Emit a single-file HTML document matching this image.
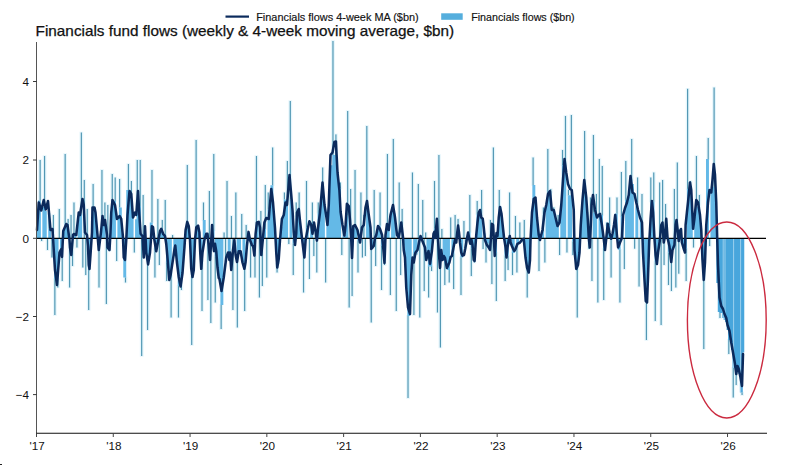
<!DOCTYPE html>
<html><head><meta charset="utf-8"><title>Financials fund flows</title>
<style>
html,body{margin:0;padding:0;background:#fff;}
body{width:800px;height:465px;overflow:hidden;}
svg{display:block;}
text{font-family:'Liberation Sans', Arial, sans-serif;fill:#111;}
</style></head><body>
<svg width="800" height="465" viewBox="0 0 800 465">
<rect width="800" height="465" fill="#fff"/>
<text x="35.6" y="35.7" font-size="14.3" textLength="418.6" lengthAdjust="spacingAndGlyphs" stroke="#111" stroke-width="0.25">Financials fund flows (weekly &amp; 4-week moving average, $bn)</text>
<line x1="225.5" x2="249" y1="16.6" y2="16.6" stroke="#0b2a5c" stroke-width="2.2"/>
<text x="256.2" y="20.8" font-size="10.5" textLength="162.5" lengthAdjust="spacingAndGlyphs" stroke="#111" stroke-width="0.15">Financials flows 4-week MA ($bn)</text>
<rect x="441.2" y="13.3" width="21.5" height="6.5" fill="#55aedd"/>
<text x="471.2" y="20.8" font-size="10.5" textLength="103.5" lengthAdjust="spacingAndGlyphs" stroke="#111" stroke-width="0.15">Financials flows ($bn)</text>
<g fill="#e6f6fc"><rect x="38.24" y="159.2" width="3.8" height="42.2"/><rect x="39.71" y="237.5" width="3.8" height="4.3"/><rect x="42.66" y="155.2" width="3.8" height="52.7"/><rect x="45.60" y="237.5" width="3.8" height="13.3"/><rect x="47.07" y="213.1" width="3.8" height="16.4"/><rect x="50.02" y="237.5" width="3.8" height="20.8"/><rect x="51.49" y="214.2" width="3.8" height="24.9"/><rect x="52.96" y="278.3" width="3.8" height="37.5"/><rect x="55.90" y="278.3" width="3.8" height="10.0"/><rect x="57.37" y="208.2" width="3.8" height="30.9"/><rect x="60.32" y="247.1" width="3.8" height="34.7"/><rect x="63.26" y="153.2" width="3.8" height="71.2"/><rect x="66.20" y="218.2" width="3.8" height="6.2"/><rect x="67.67" y="237.5" width="3.8" height="50.8"/><rect x="69.14" y="214.2" width="3.8" height="24.9"/><rect x="70.62" y="237.5" width="3.8" height="29.3"/><rect x="72.09" y="201.7" width="3.8" height="35.2"/><rect x="75.03" y="237.5" width="3.8" height="10.8"/><rect x="79.45" y="131.7" width="3.8" height="82.8"/><rect x="80.92" y="237.5" width="3.8" height="30.8"/><rect x="82.39" y="179.2" width="3.8" height="59.9"/><rect x="83.86" y="237.5" width="3.8" height="38.3"/><rect x="85.33" y="208.2" width="3.8" height="30.9"/><rect x="86.80" y="261.4" width="3.8" height="49.4"/><rect x="91.22" y="183.2" width="3.8" height="29.4"/><rect x="97.10" y="237.5" width="3.8" height="50.8"/><rect x="100.05" y="169.2" width="3.8" height="56.1"/><rect x="102.99" y="201.7" width="3.8" height="23.6"/><rect x="104.46" y="237.5" width="3.8" height="67.3"/><rect x="105.93" y="204.2" width="3.8" height="34.9"/><rect x="107.40" y="237.5" width="3.8" height="14.3"/><rect x="110.35" y="173.2" width="3.8" height="28.4"/><rect x="113.29" y="176.7" width="3.8" height="24.9"/><rect x="114.76" y="237.5" width="3.8" height="24.3"/><rect x="117.70" y="178.2" width="3.8" height="30.1"/><rect x="123.59" y="276.7" width="3.8" height="6.6"/><rect x="126.53" y="163.2" width="3.8" height="27.6"/><rect x="129.48" y="180.2" width="3.8" height="14.6"/><rect x="132.42" y="237.5" width="3.8" height="15.8"/><rect x="135.36" y="159.2" width="3.8" height="47.5"/><rect x="138.31" y="159.2" width="3.8" height="47.5"/><rect x="139.78" y="237.5" width="3.8" height="119.3"/><rect x="141.25" y="194.2" width="3.8" height="40.6"/><rect x="145.66" y="257.3" width="3.8" height="73.5"/><rect x="150.08" y="169.2" width="3.8" height="54.1"/><rect x="153.02" y="248.1" width="3.8" height="30.2"/><rect x="155.96" y="198.2" width="3.8" height="40.9"/><rect x="157.44" y="237.5" width="3.8" height="28.3"/><rect x="160.38" y="219.2" width="3.8" height="10.3"/><rect x="163.32" y="199.2" width="3.8" height="37.3"/><rect x="164.79" y="261.6" width="3.8" height="20.2"/><rect x="169.21" y="271.4" width="3.8" height="46.9"/><rect x="170.68" y="234.2" width="3.8" height="4.9"/><rect x="172.15" y="247.3" width="3.8" height="9.6"/><rect x="176.57" y="285.3" width="3.8" height="33.0"/><rect x="179.51" y="285.3" width="3.8" height="5.5"/><rect x="185.39" y="164.2" width="3.8" height="65.6"/><rect x="189.81" y="273.4" width="3.8" height="72.4"/><rect x="194.22" y="139.2" width="3.8" height="88.1"/><rect x="200.11" y="259.3" width="3.8" height="52.5"/><rect x="201.58" y="201.7" width="3.8" height="19.1"/><rect x="206.00" y="237.5" width="3.8" height="63.3"/><rect x="207.47" y="190.2" width="3.8" height="48.9"/><rect x="208.94" y="237.5" width="3.8" height="86.3"/><rect x="211.88" y="153.2" width="3.8" height="77.7"/><rect x="213.35" y="255.5" width="3.8" height="47.8"/><rect x="219.24" y="304.2" width="3.8" height="25.6"/><rect x="222.18" y="231.7" width="3.8" height="7.4"/><rect x="223.65" y="237.5" width="3.8" height="24.4"/><rect x="225.13" y="180.2" width="3.8" height="58.9"/><rect x="226.60" y="251.4" width="3.8" height="5.3"/><rect x="229.54" y="215.2" width="3.8" height="23.9"/><rect x="231.01" y="238.1" width="3.8" height="72.7"/><rect x="233.95" y="191.7" width="3.8" height="47.4"/><rect x="235.43" y="251.4" width="3.8" height="76.9"/><rect x="239.84" y="213.2" width="3.8" height="25.9"/><rect x="242.78" y="263.6" width="3.8" height="48.2"/><rect x="244.26" y="224.2" width="3.8" height="14.9"/><rect x="245.73" y="237.5" width="3.8" height="2.0"/><rect x="247.20" y="236.5" width="3.8" height="2.6"/><rect x="248.67" y="243.3" width="3.8" height="35.0"/><rect x="253.08" y="245.5" width="3.8" height="32.8"/><rect x="254.56" y="155.2" width="3.8" height="70.5"/><rect x="257.50" y="237.5" width="3.8" height="60.8"/><rect x="258.97" y="210.2" width="3.8" height="28.9"/><rect x="260.44" y="237.5" width="3.8" height="49.3"/><rect x="263.38" y="184.2" width="3.8" height="45.6"/><rect x="264.86" y="237.5" width="3.8" height="40.8"/><rect x="266.33" y="191.7" width="3.8" height="18.5"/><rect x="270.74" y="146.7" width="3.8" height="39.3"/><rect x="275.16" y="263.0" width="3.8" height="10.3"/><rect x="282.51" y="191.7" width="3.8" height="8.5"/><rect x="285.46" y="160.2" width="3.8" height="40.0"/><rect x="286.93" y="237.5" width="3.8" height="7.3"/><rect x="288.40" y="100.2" width="3.8" height="100.1"/><rect x="291.34" y="242.8" width="3.8" height="33.0"/><rect x="294.29" y="201.7" width="3.8" height="15.4"/><rect x="297.23" y="191.7" width="3.8" height="25.4"/><rect x="301.64" y="244.9" width="3.8" height="48.4"/><rect x="304.59" y="180.2" width="3.8" height="48.1"/><rect x="307.53" y="237.5" width="3.8" height="42.3"/><rect x="310.47" y="201.7" width="3.8" height="21.9"/><rect x="311.94" y="237.5" width="3.8" height="19.3"/><rect x="313.42" y="228.7" width="3.8" height="10.4"/><rect x="314.89" y="237.5" width="3.8" height="35.8"/><rect x="316.36" y="201.7" width="3.8" height="11.7"/><rect x="320.77" y="166.7" width="3.8" height="34.3"/><rect x="323.72" y="237.5" width="3.8" height="45.8"/><rect x="331.07" y="40.2" width="3.8" height="115.7"/><rect x="334.02" y="133.6" width="3.8" height="22.3"/><rect x="338.43" y="181.7" width="3.8" height="7.3"/><rect x="339.90" y="237.5" width="3.8" height="18.3"/><rect x="341.38" y="227.7" width="3.8" height="8.4"/><rect x="345.79" y="110.2" width="3.8" height="106.2"/><rect x="347.26" y="237.5" width="3.8" height="70.8"/><rect x="348.73" y="188.2" width="3.8" height="50.9"/><rect x="350.20" y="237.5" width="3.8" height="59.3"/><rect x="353.15" y="169.2" width="3.8" height="58.4"/><rect x="356.09" y="239.9" width="3.8" height="33.4"/><rect x="359.03" y="191.7" width="3.8" height="47.4"/><rect x="360.50" y="237.5" width="3.8" height="20.8"/><rect x="361.98" y="214.2" width="3.8" height="24.9"/><rect x="363.45" y="237.5" width="3.8" height="19.3"/><rect x="364.92" y="125.2" width="3.8" height="85.1"/><rect x="369.33" y="248.0" width="3.8" height="75.3"/><rect x="372.28" y="189.2" width="3.8" height="49.9"/><rect x="373.75" y="237.5" width="3.8" height="29.3"/><rect x="378.16" y="191.7" width="3.8" height="34.6"/><rect x="379.63" y="244.9" width="3.8" height="45.9"/><rect x="382.58" y="244.9" width="3.8" height="20.9"/><rect x="385.52" y="153.2" width="3.8" height="76.6"/><rect x="388.46" y="237.5" width="3.8" height="58.3"/><rect x="391.41" y="138.2" width="3.8" height="69.5"/><rect x="394.35" y="237.5" width="3.8" height="74.3"/><rect x="397.29" y="181.7" width="3.8" height="54.6"/><rect x="398.76" y="237.5" width="3.8" height="38.3"/><rect x="400.24" y="208.2" width="3.8" height="30.9"/><rect x="406.12" y="315.1" width="3.8" height="83.7"/><rect x="410.54" y="171.7" width="3.8" height="67.4"/><rect x="412.01" y="252.3" width="3.8" height="63.5"/><rect x="414.95" y="252.3" width="3.8" height="3.0"/><rect x="416.42" y="183.2" width="3.8" height="55.9"/><rect x="417.89" y="237.5" width="3.8" height="80.8"/><rect x="420.84" y="199.2" width="3.8" height="38.4"/><rect x="422.31" y="237.5" width="3.8" height="54.3"/><rect x="423.78" y="231.7" width="3.8" height="7.4"/><rect x="426.72" y="265.6" width="3.8" height="32.7"/><rect x="429.67" y="265.6" width="3.8" height="6.2"/><rect x="432.61" y="180.2" width="3.8" height="49.3"/><rect x="435.55" y="237.5" width="3.8" height="75.8"/><rect x="437.02" y="154.2" width="3.8" height="84.9"/><rect x="438.50" y="237.5" width="3.8" height="110.8"/><rect x="439.97" y="228.2" width="3.8" height="10.9"/><rect x="442.91" y="262.3" width="3.8" height="23.5"/><rect x="447.32" y="269.1" width="3.8" height="14.2"/><rect x="448.80" y="216.7" width="3.8" height="22.4"/><rect x="451.74" y="253.6" width="3.8" height="36.2"/><rect x="453.21" y="214.2" width="3.8" height="24.2"/><rect x="456.15" y="218.2" width="3.8" height="20.2"/><rect x="459.10" y="256.7" width="3.8" height="39.1"/><rect x="462.04" y="220.2" width="3.8" height="18.9"/><rect x="463.51" y="238.8" width="3.8" height="10.0"/><rect x="467.93" y="194.2" width="3.8" height="38.6"/><rect x="469.40" y="248.0" width="3.8" height="28.8"/><rect x="472.34" y="248.0" width="3.8" height="15.3"/><rect x="475.28" y="200.2" width="3.8" height="14.6"/><rect x="479.70" y="189.2" width="3.8" height="26.8"/><rect x="481.17" y="237.5" width="3.8" height="12.3"/><rect x="482.64" y="232.9" width="3.8" height="6.2"/><rect x="484.11" y="242.6" width="3.8" height="20.7"/><rect x="487.06" y="242.6" width="3.8" height="4.2"/><rect x="488.53" y="219.2" width="3.8" height="19.9"/><rect x="490.00" y="237.5" width="3.8" height="47.3"/><rect x="491.47" y="146.7" width="3.8" height="92.4"/><rect x="494.41" y="252.3" width="3.8" height="49.5"/><rect x="497.36" y="189.2" width="3.8" height="18.1"/><rect x="503.24" y="254.7" width="3.8" height="27.1"/><rect x="506.18" y="254.7" width="3.8" height="16.1"/><rect x="507.66" y="191.7" width="3.8" height="47.4"/><rect x="510.60" y="252.1" width="3.8" height="23.7"/><rect x="513.54" y="215.2" width="3.8" height="23.9"/><rect x="515.01" y="243.4" width="3.8" height="29.9"/><rect x="517.96" y="221.7" width="3.8" height="17.4"/><rect x="519.43" y="238.8" width="3.8" height="4.1"/><rect x="522.37" y="219.2" width="3.8" height="19.9"/><rect x="525.31" y="266.6" width="3.8" height="31.7"/><rect x="531.20" y="156.7" width="3.8" height="29.1"/><rect x="537.09" y="237.5" width="3.8" height="34.3"/><rect x="541.50" y="206.7" width="3.8" height="25.5"/><rect x="542.97" y="237.5" width="3.8" height="25.8"/><rect x="545.92" y="148.2" width="3.8" height="45.2"/><rect x="548.86" y="188.2" width="3.8" height="5.2"/><rect x="551.80" y="206.6" width="3.8" height="5.2"/><rect x="556.22" y="214.2" width="3.8" height="7.6"/><rect x="557.69" y="237.5" width="3.8" height="18.3"/><rect x="560.63" y="149.2" width="3.8" height="16.8"/><rect x="563.57" y="115.2" width="3.8" height="50.8"/><rect x="565.05" y="237.5" width="3.8" height="15.8"/><rect x="566.52" y="189.1" width="3.8" height="6.9"/><rect x="569.46" y="114.2" width="3.8" height="81.9"/><rect x="570.93" y="240.7" width="3.8" height="15.1"/><rect x="575.35" y="266.8" width="3.8" height="51.5"/><rect x="582.70" y="130.2" width="3.8" height="64.5"/><rect x="587.12" y="237.5" width="3.8" height="12.3"/><rect x="588.59" y="196.7" width="3.8" height="42.4"/><rect x="590.06" y="237.5" width="3.8" height="44.3"/><rect x="591.53" y="134.2" width="3.8" height="79.2"/><rect x="594.48" y="193.2" width="3.8" height="20.2"/><rect x="595.95" y="237.5" width="3.8" height="65.8"/><rect x="597.42" y="158.2" width="3.8" height="57.6"/><rect x="600.36" y="165.2" width="3.8" height="50.6"/><rect x="601.83" y="248.2" width="3.8" height="52.6"/><rect x="604.78" y="221.7" width="3.8" height="4.2"/><rect x="607.72" y="196.7" width="3.8" height="29.2"/><rect x="609.19" y="237.5" width="3.8" height="40.8"/><rect x="615.08" y="196.7" width="3.8" height="17.7"/><rect x="618.02" y="249.0" width="3.8" height="54.3"/><rect x="619.49" y="171.2" width="3.8" height="45.7"/><rect x="622.43" y="237.5" width="3.8" height="32.3"/><rect x="623.91" y="160.2" width="3.8" height="40.4"/><rect x="629.79" y="138.2" width="3.8" height="42.6"/><rect x="632.74" y="237.5" width="3.8" height="12.0"/><rect x="635.68" y="176.7" width="3.8" height="30.3"/><rect x="637.15" y="237.5" width="3.8" height="49.8"/><rect x="640.09" y="193.2" width="3.8" height="28.6"/><rect x="644.51" y="288.4" width="3.8" height="52.4"/><rect x="648.92" y="176.7" width="3.8" height="25.6"/><rect x="651.86" y="171.7" width="3.8" height="30.6"/><rect x="653.34" y="261.3" width="3.8" height="60.5"/><rect x="657.75" y="181.7" width="3.8" height="57.4"/><rect x="659.22" y="237.5" width="3.8" height="88.3"/><rect x="660.69" y="179.2" width="3.8" height="59.9"/><rect x="662.17" y="237.5" width="3.8" height="28.3"/><rect x="663.64" y="203.2" width="3.8" height="27.8"/><rect x="666.58" y="251.8" width="3.8" height="34.0"/><rect x="669.52" y="251.8" width="3.8" height="40.0"/><rect x="672.47" y="188.2" width="3.8" height="50.9"/><rect x="673.94" y="237.5" width="3.8" height="50.8"/><rect x="675.41" y="161.7" width="3.8" height="77.4"/><rect x="676.88" y="237.5" width="3.8" height="37.0"/><rect x="678.35" y="228.2" width="3.8" height="10.9"/><rect x="684.24" y="248.0" width="3.8" height="33.8"/><rect x="685.71" y="88.0" width="3.8" height="101.7"/><rect x="688.65" y="180.2" width="3.8" height="9.4"/><rect x="691.60" y="237.5" width="3.8" height="10.8"/><rect x="694.54" y="155.2" width="3.8" height="52.4"/><rect x="697.48" y="194.2" width="3.8" height="13.4"/><rect x="701.90" y="259.0" width="3.8" height="90.8"/><rect x="706.31" y="137.2" width="3.8" height="22.6"/><rect x="707.78" y="237.5" width="3.8" height="9.3"/><rect x="712.20" y="86.7" width="3.8" height="100.9"/><rect x="718.08" y="312.2" width="3.8" height="6.6"/><rect x="726.91" y="339.2" width="3.8" height="15.6"/><rect x="731.33" y="367.2" width="3.8" height="31.1"/><rect x="734.27" y="371.2" width="3.8" height="14.6"/><rect x="740.16" y="391.7" width="3.8" height="4.1"/></g>
<path fill="#64b9e7" d="M36.46,238.3V225.7H37.94V238.3ZM37.94,238.3V200.6H39.41V238.3ZM39.41,238.3V200.6H40.88V238.3ZM42.35,238.3V207.1H43.82V238.3ZM43.82,238.3V207.1H45.29V238.3ZM45.29,238.3V211.0H46.76V238.3ZM48.24,238.3V228.7H49.71V238.3ZM49.71,238.3V228.7H51.18V238.3ZM54.12,238.3V279.1H55.59V238.3ZM55.59,238.3V279.1H57.07V238.3ZM57.07,238.3V279.1H58.54V238.3ZM60.01,238.3V247.9H61.48V238.3ZM61.48,238.3V247.9H62.95V238.3ZM62.95,238.3V229.3H64.42V238.3ZM64.42,238.3V223.6H65.89V238.3ZM65.89,238.3V223.6H67.37V238.3ZM67.37,238.3V223.6H68.84V238.3ZM73.25,238.3V236.1H74.72V238.3ZM74.72,238.3V236.1H76.20V238.3ZM77.67,238.3V219.4H79.14V238.3ZM79.14,238.3V213.7H80.61V238.3ZM80.61,238.3V213.7H82.08V238.3ZM87.97,238.3V262.2H89.44V238.3ZM89.44,238.3V262.2H90.91V238.3ZM90.91,238.3V236.5H92.38V238.3ZM92.38,238.3V211.8H93.85V238.3ZM93.85,238.3V211.8H95.32V238.3ZM95.32,238.3V218.8H96.80V238.3ZM96.80,238.3V237.1H98.27V238.3ZM101.21,238.3V224.5H102.68V238.3ZM102.68,238.3V224.5H104.15V238.3ZM104.15,238.3V224.5H105.63V238.3ZM110.04,238.3V224.8H111.51V238.3ZM111.51,238.3V200.8H112.98V238.3ZM112.98,238.3V200.8H114.45V238.3ZM114.45,238.3V200.8H115.93V238.3ZM117.40,238.3V216.4H118.87V238.3ZM118.87,238.3V207.5H120.34V238.3ZM120.34,238.3V207.5H121.81V238.3ZM121.81,238.3V233.6H123.28V238.3ZM123.28,238.3V277.5H124.76V238.3ZM124.76,238.3V277.5H126.23V238.3ZM126.23,238.3V190.0H127.70V238.3ZM127.70,238.3V190.0H129.17V238.3ZM129.17,238.3V194.0H130.64V238.3ZM130.64,238.3V194.0H132.11V238.3ZM132.11,238.3V216.9H133.58V238.3ZM135.06,238.3V219.2H136.53V238.3ZM136.53,238.3V205.9H138.00V238.3ZM138.00,238.3V205.9H139.47V238.3ZM139.47,238.3V205.9H140.94V238.3ZM142.41,238.3V234.0H143.88V238.3ZM143.88,238.3V234.0H145.36V238.3ZM145.36,238.3V247.5H146.83V238.3ZM146.83,238.3V258.1H148.30V238.3ZM148.30,238.3V258.1H149.77V238.3ZM149.77,238.3V222.5H151.24V238.3ZM151.24,238.3V222.5H152.71V238.3ZM152.71,238.3V233.6H154.19V238.3ZM154.19,238.3V248.9H155.66V238.3ZM155.66,238.3V248.9H157.13V238.3ZM160.07,238.3V228.7H161.54V238.3ZM161.54,238.3V228.7H163.01V238.3ZM163.01,238.3V235.7H164.49V238.3ZM164.49,238.3V235.7H165.96V238.3ZM165.96,238.3V262.4H167.43V238.3ZM167.43,238.3V262.4H168.90V238.3ZM168.90,238.3V272.2H170.37V238.3ZM170.37,238.3V272.2H171.84V238.3ZM173.32,238.3V248.1H174.79V238.3ZM174.79,238.3V248.1H176.26V238.3ZM176.26,238.3V259.4H177.73V238.3ZM177.73,238.3V286.1H179.20V238.3ZM179.20,238.3V286.1H180.67V238.3ZM180.67,238.3V286.1H182.14V238.3ZM182.14,238.3V270.4H183.62V238.3ZM183.62,238.3V248.2H185.09V238.3ZM185.09,238.3V229.4H186.56V238.3ZM186.56,238.3V229.0H188.03V238.3ZM188.03,238.3V229.0H189.50V238.3ZM189.50,238.3V246.6H190.97V238.3ZM190.97,238.3V274.2H192.44V238.3ZM192.44,238.3V274.2H193.92V238.3ZM193.92,238.3V247.2H195.39V238.3ZM195.39,238.3V226.5H196.86V238.3ZM196.86,238.3V226.5H198.33V238.3ZM198.33,238.3V233.1H199.80V238.3ZM199.80,238.3V260.1H201.27V238.3ZM201.27,238.3V260.1H202.75V238.3ZM202.75,238.3V220.0H204.22V238.3ZM204.22,238.3V220.0H205.69V238.3ZM205.69,238.3V235.9H207.16V238.3ZM211.57,238.3V230.1H213.05V238.3ZM213.05,238.3V230.1H214.52V238.3ZM214.52,238.3V256.3H215.99V238.3ZM215.99,238.3V256.3H217.46V238.3ZM217.46,238.3V275.8H218.93V238.3ZM218.93,238.3V280.8H220.40V238.3ZM220.40,238.3V305.0H221.88V238.3ZM221.88,238.3V305.0H223.35V238.3ZM227.76,238.3V252.2H229.23V238.3ZM229.23,238.3V252.2H230.70V238.3ZM232.18,238.3V238.9H233.65V238.3ZM233.65,238.3V238.9H235.12V238.3ZM236.59,238.3V252.2H238.06V238.3ZM238.06,238.3V252.2H239.53V238.3ZM239.53,238.3V251.5H241.00V238.3ZM242.48,238.3V264.4H243.95V238.3ZM243.95,238.3V264.4H245.42V238.3ZM249.83,238.3V244.1H251.31V238.3ZM251.31,238.3V244.1H252.78V238.3ZM252.78,238.3V246.3H254.25V238.3ZM254.25,238.3V246.3H255.72V238.3ZM255.72,238.3V224.9H257.19V238.3ZM257.19,238.3V224.9H258.66V238.3ZM263.08,238.3V229.0H264.55V238.3ZM264.55,238.3V229.0H266.02V238.3ZM267.49,238.3V209.4H268.96V238.3ZM268.96,238.3V209.4H270.44V238.3ZM270.44,238.3V185.2H271.91V238.3ZM271.91,238.3V185.2H273.38V238.3ZM273.38,238.3V218.8H274.85V238.3ZM274.85,238.3V239.6H276.32V238.3ZM276.32,238.3V263.8H277.79V238.3ZM277.79,238.3V263.8H279.26V238.3ZM279.26,238.3V238.6H280.74V238.3ZM280.74,238.3V227.0H282.21V238.3ZM282.21,238.3V216.4H283.68V238.3ZM283.68,238.3V199.4H285.15V238.3ZM285.15,238.3V199.4H286.62V238.3ZM286.62,238.3V199.4H288.09V238.3ZM289.56,238.3V199.5H291.04V238.3ZM291.04,238.3V199.5H292.51V238.3ZM292.51,238.3V243.6H293.98V238.3ZM293.98,238.3V243.6H295.45V238.3ZM295.45,238.3V216.3H296.92V238.3ZM296.92,238.3V216.3H298.39V238.3ZM298.39,238.3V216.3H299.87V238.3ZM299.87,238.3V228.3H301.34V238.3ZM301.34,238.3V237.0H302.81V238.3ZM302.81,238.3V245.7H304.28V238.3ZM304.28,238.3V245.7H305.75V238.3ZM305.75,238.3V227.5H307.22V238.3ZM307.22,238.3V227.5H308.69V238.3ZM310.17,238.3V222.8H311.64V238.3ZM311.64,238.3V222.8H313.11V238.3ZM317.52,238.3V212.6H319.00V238.3ZM319.00,238.3V212.6H320.47V238.3ZM320.47,238.3V200.2H321.94V238.3ZM321.94,238.3V200.2H323.41V238.3ZM323.41,238.3V202.0H324.88V238.3ZM326.35,238.3V222.0H327.82V238.3ZM327.82,238.3V208.3H329.30V238.3ZM329.30,238.3V175.3H330.77V238.3ZM330.77,238.3V165.2H332.24V238.3ZM332.24,238.3V155.1H333.71V238.3ZM333.71,238.3V155.1H335.18V238.3ZM335.18,238.3V155.1H336.65V238.3ZM336.65,238.3V173.6H338.12V238.3ZM338.12,238.3V188.2H339.60V238.3ZM339.60,238.3V188.2H341.07V238.3ZM342.54,238.3V235.3H344.01V238.3ZM344.01,238.3V235.3H345.48V238.3ZM345.48,238.3V215.6H346.95V238.3ZM346.95,238.3V215.6H348.43V238.3ZM352.84,238.3V226.8H354.31V238.3ZM354.31,238.3V226.8H355.78V238.3ZM355.78,238.3V227.3H357.25V238.3ZM357.25,238.3V240.7H358.73V238.3ZM358.73,238.3V240.7H360.20V238.3ZM366.08,238.3V209.5H367.56V238.3ZM367.56,238.3V209.5H369.03V238.3ZM369.03,238.3V223.0H370.50V238.3ZM370.50,238.3V248.8H371.97V238.3ZM371.97,238.3V248.8H373.44V238.3ZM376.38,238.3V231.2H377.86V238.3ZM377.86,238.3V225.5H379.33V238.3ZM379.33,238.3V225.5H380.80V238.3ZM380.80,238.3V245.7H382.27V238.3ZM382.27,238.3V245.7H383.74V238.3ZM383.74,238.3V245.7H385.21V238.3ZM385.21,238.3V229.3H386.68V238.3ZM386.68,238.3V229.0H388.16V238.3ZM388.16,238.3V229.0H389.63V238.3ZM391.10,238.3V206.9H392.57V238.3ZM392.57,238.3V206.9H394.04V238.3ZM394.04,238.3V213.5H395.51V238.3ZM396.99,238.3V235.5H398.46V238.3ZM398.46,238.3V235.5H399.93V238.3ZM402.87,238.3V245.4H404.34V238.3ZM404.34,238.3V259.5H405.81V238.3ZM405.81,238.3V288.9H407.29V238.3ZM407.29,238.3V315.9H408.76V238.3ZM408.76,238.3V315.9H410.23V238.3ZM410.23,238.3V284.5H411.70V238.3ZM413.17,238.3V253.1H414.64V238.3ZM414.64,238.3V253.1H416.12V238.3ZM416.12,238.3V253.1H417.59V238.3ZM420.53,238.3V236.8H422.00V238.3ZM422.00,238.3V236.8H423.47V238.3ZM426.42,238.3V256.5H427.89V238.3ZM427.89,238.3V266.4H429.36V238.3ZM429.36,238.3V266.4H430.83V238.3ZM430.83,238.3V266.4H432.30V238.3ZM432.30,238.3V236.4H433.77V238.3ZM433.77,238.3V228.7H435.24V238.3ZM435.24,238.3V228.7H436.72V238.3ZM442.60,238.3V260.3H444.07V238.3ZM444.07,238.3V263.1H445.55V238.3ZM445.55,238.3V263.1H447.02V238.3ZM447.02,238.3V269.9H448.49V238.3ZM448.49,238.3V269.9H449.96V238.3ZM451.43,238.3V254.4H452.90V238.3ZM452.90,238.3V254.4H454.37V238.3ZM454.37,238.3V237.6H455.85V238.3ZM455.85,238.3V237.6H457.32V238.3ZM457.32,238.3V237.6H458.79V238.3ZM458.79,238.3V239.3H460.26V238.3ZM460.26,238.3V257.5H461.73V238.3ZM461.73,238.3V257.5H463.20V238.3ZM464.68,238.3V239.6H466.15V238.3ZM466.15,238.3V239.6H467.62V238.3ZM467.62,238.3V232.0H469.09V238.3ZM469.09,238.3V232.0H470.56V238.3ZM470.56,238.3V248.8H472.03V238.3ZM472.03,238.3V248.8H473.50V238.3ZM473.50,238.3V248.8H474.98V238.3ZM474.98,238.3V242.1H476.45V238.3ZM476.45,238.3V214.0H477.92V238.3ZM477.92,238.3V214.0H479.39V238.3ZM479.39,238.3V215.2H480.86V238.3ZM480.86,238.3V215.2H482.33V238.3ZM485.28,238.3V243.4H486.75V238.3ZM486.75,238.3V243.4H488.22V238.3ZM488.22,238.3V243.4H489.69V238.3ZM494.11,238.3V253.1H495.58V238.3ZM495.58,238.3V253.1H497.05V238.3ZM497.05,238.3V229.2H498.52V238.3ZM498.52,238.3V206.5H499.99V238.3ZM499.99,238.3V206.5H501.46V238.3ZM501.46,238.3V220.6H502.93V238.3ZM502.93,238.3V234.3H504.41V238.3ZM504.41,238.3V255.5H505.88V238.3ZM505.88,238.3V255.5H507.35V238.3ZM507.35,238.3V255.5H508.82V238.3ZM510.29,238.3V241.2H511.76V238.3ZM511.76,238.3V252.9H513.24V238.3ZM513.24,238.3V252.9H514.71V238.3ZM516.18,238.3V244.2H517.65V238.3ZM517.65,238.3V244.2H519.12V238.3ZM520.59,238.3V239.6H522.06V238.3ZM522.06,238.3V239.6H523.54V238.3ZM525.01,238.3V259.6H526.48V238.3ZM526.48,238.3V267.4H527.95V238.3ZM527.95,238.3V267.4H529.42V238.3ZM529.42,238.3V255.1H530.89V238.3ZM530.89,238.3V219.3H532.36V238.3ZM532.36,238.3V185.0H533.84V238.3ZM533.84,238.3V185.0H535.31V238.3ZM535.31,238.3V201.8H536.78V238.3ZM536.78,238.3V223.4H538.25V238.3ZM539.72,238.3V237.5H541.19V238.3ZM541.19,238.3V231.4H542.67V238.3ZM542.67,238.3V231.4H544.14V238.3ZM545.61,238.3V205.6H547.08V238.3ZM547.08,238.3V192.6H548.55V238.3ZM548.55,238.3V192.6H550.02V238.3ZM550.02,238.3V192.6H551.49V238.3ZM551.49,238.3V211.1H552.97V238.3ZM552.97,238.3V211.1H554.44V238.3ZM554.44,238.3V215.8H555.91V238.3ZM555.91,238.3V221.0H557.38V238.3ZM557.38,238.3V221.0H558.85V238.3ZM560.32,238.3V210.8H561.80V238.3ZM561.80,238.3V165.2H563.27V238.3ZM563.27,238.3V165.2H564.74V238.3ZM564.74,238.3V165.2H566.21V238.3ZM567.68,238.3V195.3H569.15V238.3ZM569.15,238.3V195.3H570.62V238.3ZM570.62,238.3V195.3H572.10V238.3ZM572.10,238.3V241.5H573.57V238.3ZM573.57,238.3V241.5H575.04V238.3ZM575.04,238.3V267.6H576.51V238.3ZM576.51,238.3V267.6H577.98V238.3ZM577.98,238.3V259.3H579.45V238.3ZM579.45,238.3V234.9H580.92V238.3ZM580.92,238.3V210.5H582.40V238.3ZM582.40,238.3V193.9H583.87V238.3ZM583.87,238.3V193.9H585.34V238.3ZM585.34,238.3V198.1H586.81V238.3ZM586.81,238.3V212.1H588.28V238.3ZM592.70,238.3V212.6H594.17V238.3ZM594.17,238.3V212.6H595.64V238.3ZM595.64,238.3V212.6H597.11V238.3ZM598.58,238.3V215.0H600.05V238.3ZM600.05,238.3V215.0H601.53V238.3ZM601.53,238.3V215.0H603.00V238.3ZM603.00,238.3V249.0H604.47V238.3ZM604.47,238.3V249.0H605.94V238.3ZM605.94,238.3V225.1H607.41V238.3ZM607.41,238.3V225.1H608.88V238.3ZM608.88,238.3V225.1H610.36V238.3ZM611.83,238.3V235.3H613.30V238.3ZM613.30,238.3V224.1H614.77V238.3ZM614.77,238.3V213.6H616.24V238.3ZM616.24,238.3V213.6H617.71V238.3ZM617.71,238.3V249.8H619.18V238.3ZM619.18,238.3V249.8H620.66V238.3ZM620.66,238.3V216.1H622.13V238.3ZM622.13,238.3V216.1H623.60V238.3ZM625.07,238.3V199.8H626.54V238.3ZM626.54,238.3V199.8H628.01V238.3ZM628.01,238.3V196.8H629.48V238.3ZM629.48,238.3V180.0H630.96V238.3ZM630.96,238.3V180.0H632.43V238.3ZM632.43,238.3V184.0H633.90V238.3ZM635.37,238.3V206.2H636.84V238.3ZM636.84,238.3V206.2H638.31V238.3ZM639.79,238.3V221.0H641.26V238.3ZM641.26,238.3V221.0H642.73V238.3ZM642.73,238.3V258.8H644.20V238.3ZM644.20,238.3V289.2H645.67V238.3ZM645.67,238.3V289.2H647.14V238.3ZM647.14,238.3V280.0H648.61V238.3ZM648.61,238.3V239.1H650.09V238.3ZM650.09,238.3V201.5H651.56V238.3ZM651.56,238.3V201.5H653.03V238.3ZM653.03,238.3V201.5H654.50V238.3ZM654.50,238.3V262.1H655.97V238.3ZM655.97,238.3V262.1H657.44V238.3ZM657.44,238.3V253.4H658.92V238.3ZM664.80,238.3V230.2H666.27V238.3ZM666.27,238.3V230.2H667.74V238.3ZM667.74,238.3V252.6H669.22V238.3ZM669.22,238.3V252.6H670.69V238.3ZM670.69,238.3V252.6H672.16V238.3ZM672.16,238.3V249.6H673.63V238.3ZM680.99,238.3V240.2H682.46V238.3ZM682.46,238.3V245.6H683.93V238.3ZM683.93,238.3V248.8H685.40V238.3ZM685.40,238.3V248.8H686.87V238.3ZM686.87,238.3V188.8H688.35V238.3ZM688.35,238.3V188.8H689.82V238.3ZM689.82,238.3V188.8H691.29V238.3ZM691.29,238.3V207.7H692.76V238.3ZM694.23,238.3V216.4H695.70V238.3ZM695.70,238.3V206.8H697.17V238.3ZM697.17,238.3V206.8H698.65V238.3ZM698.65,238.3V206.8H700.12V238.3ZM700.12,238.3V225.4H701.59V238.3ZM701.59,238.3V259.8H703.06V238.3ZM703.06,238.3V259.8H704.53V238.3ZM704.53,238.3V253.8H706.00V238.3ZM706.00,238.3V159.0H707.48V238.3ZM707.48,238.3V159.0H708.95V238.3ZM710.42,238.3V190.0H711.89V238.3ZM711.89,238.3V186.8H713.36V238.3ZM713.36,238.3V186.8H714.83V238.3ZM714.83,238.3V194.1H716.30V238.3Z"/>
<path fill="#48a6dc" d="M716.30,238.3V283.0H717.78V238.3ZM717.78,238.3V312.0H719.25V238.3ZM719.25,238.3V313.0H720.72V238.3ZM720.72,238.3V313.0H722.19V238.3ZM722.19,238.3V318.0H723.66V238.3ZM723.66,238.3V320.0H725.13V238.3ZM725.13,238.3V322.0H726.61V238.3ZM726.61,238.3V330.0H728.08V238.3ZM728.08,238.3V340.0H729.55V238.3ZM729.55,238.3V340.0H731.02V238.3ZM731.02,238.3V350.0H732.49V238.3ZM732.49,238.3V368.0H733.96V238.3ZM733.96,238.3V368.0H735.43V238.3ZM735.43,238.3V372.0H736.91V238.3ZM736.91,238.3V372.0H738.38V238.3ZM738.38,238.3V374.0H739.85V238.3ZM739.85,238.3V392.5H741.32V238.3ZM741.32,238.3V392.5H742.79V238.3ZM742.79,238.3V352.5H744.26V238.3Z"/>
<g stroke="#d4edf9" stroke-width="0.6"><line x1="723.2" x2="723.2" y1="239" y2="318.0"/><line x1="725.0" x2="725.0" y1="239" y2="320.0"/><line x1="733.6" x2="733.6" y1="239" y2="368.0"/><line x1="740.6" x2="740.6" y1="239" y2="392.5"/></g>
<g fill="#5298b4"><rect x="39.54" y="160.0" width="1.2" height="40.6"/><rect x="41.01" y="238.3" width="1.2" height="2.7"/><rect x="43.96" y="156.0" width="1.2" height="51.1"/><rect x="46.90" y="238.3" width="1.2" height="11.7"/><rect x="48.37" y="213.9" width="1.2" height="14.8"/><rect x="51.32" y="238.3" width="1.2" height="19.2"/><rect x="52.79" y="215.0" width="1.2" height="23.3"/><rect x="54.26" y="279.1" width="1.2" height="35.9"/><rect x="57.20" y="279.1" width="1.2" height="8.4"/><rect x="58.67" y="209.0" width="1.2" height="29.3"/><rect x="61.62" y="247.9" width="1.2" height="33.1"/><rect x="64.56" y="154.0" width="1.2" height="69.6"/><rect x="67.50" y="219.0" width="1.2" height="4.6"/><rect x="68.97" y="238.3" width="1.2" height="49.2"/><rect x="70.44" y="215.0" width="1.2" height="23.3"/><rect x="71.92" y="238.3" width="1.2" height="27.7"/><rect x="73.39" y="202.5" width="1.2" height="33.6"/><rect x="76.33" y="238.3" width="1.2" height="9.2"/><rect x="80.75" y="132.5" width="1.2" height="81.2"/><rect x="82.22" y="238.3" width="1.2" height="29.2"/><rect x="83.69" y="180.0" width="1.2" height="58.3"/><rect x="85.16" y="238.3" width="1.2" height="36.7"/><rect x="86.63" y="209.0" width="1.2" height="29.3"/><rect x="88.10" y="262.2" width="1.2" height="47.8"/><rect x="92.52" y="184.0" width="1.2" height="27.8"/><rect x="98.40" y="238.3" width="1.2" height="49.2"/><rect x="101.35" y="170.0" width="1.2" height="54.5"/><rect x="104.29" y="202.5" width="1.2" height="22.0"/><rect x="105.76" y="238.3" width="1.2" height="65.7"/><rect x="107.23" y="205.0" width="1.2" height="33.3"/><rect x="108.70" y="238.3" width="1.2" height="12.7"/><rect x="111.65" y="174.0" width="1.2" height="26.8"/><rect x="114.59" y="177.5" width="1.2" height="23.3"/><rect x="116.06" y="238.3" width="1.2" height="22.7"/><rect x="119.00" y="179.0" width="1.2" height="28.5"/><rect x="124.89" y="277.5" width="1.2" height="5.0"/><rect x="127.83" y="164.0" width="1.2" height="26.0"/><rect x="130.78" y="181.0" width="1.2" height="13.0"/><rect x="133.72" y="238.3" width="1.2" height="14.2"/><rect x="136.66" y="160.0" width="1.2" height="45.9"/><rect x="139.61" y="160.0" width="1.2" height="45.9"/><rect x="141.08" y="238.3" width="1.2" height="117.7"/><rect x="142.55" y="195.0" width="1.2" height="39.0"/><rect x="146.96" y="258.1" width="1.2" height="71.9"/><rect x="151.38" y="170.0" width="1.2" height="52.5"/><rect x="154.32" y="248.9" width="1.2" height="28.6"/><rect x="157.26" y="199.0" width="1.2" height="39.3"/><rect x="158.74" y="238.3" width="1.2" height="26.7"/><rect x="161.68" y="220.0" width="1.2" height="8.7"/><rect x="164.62" y="200.0" width="1.2" height="35.7"/><rect x="166.09" y="262.4" width="1.2" height="18.6"/><rect x="170.51" y="272.2" width="1.2" height="45.3"/><rect x="171.98" y="235.0" width="1.2" height="3.3"/><rect x="173.45" y="248.1" width="1.2" height="8.0"/><rect x="177.87" y="286.1" width="1.2" height="31.4"/><rect x="180.81" y="286.1" width="1.2" height="3.9"/><rect x="186.69" y="165.0" width="1.2" height="64.0"/><rect x="191.11" y="274.2" width="1.2" height="70.8"/><rect x="195.52" y="140.0" width="1.2" height="86.5"/><rect x="201.41" y="260.1" width="1.2" height="50.9"/><rect x="202.88" y="202.5" width="1.2" height="17.5"/><rect x="207.30" y="238.3" width="1.2" height="61.7"/><rect x="208.77" y="191.0" width="1.2" height="47.3"/><rect x="210.24" y="238.3" width="1.2" height="84.7"/><rect x="213.18" y="154.0" width="1.2" height="76.1"/><rect x="214.65" y="256.3" width="1.2" height="46.2"/><rect x="220.54" y="305.0" width="1.2" height="24.0"/><rect x="223.48" y="232.5" width="1.2" height="5.8"/><rect x="224.95" y="238.3" width="1.2" height="22.8"/><rect x="226.43" y="181.0" width="1.2" height="57.3"/><rect x="227.90" y="252.2" width="1.2" height="3.7"/><rect x="230.84" y="216.0" width="1.2" height="22.3"/><rect x="232.31" y="238.9" width="1.2" height="71.1"/><rect x="235.25" y="192.5" width="1.2" height="45.8"/><rect x="236.73" y="252.2" width="1.2" height="75.3"/><rect x="241.14" y="214.0" width="1.2" height="24.3"/><rect x="244.08" y="264.4" width="1.2" height="46.6"/><rect x="245.56" y="225.0" width="1.2" height="13.3"/><rect x="247.03" y="238.3" width="1.2" height="0.4"/><rect x="248.50" y="237.3" width="1.2" height="1.0"/><rect x="249.97" y="244.1" width="1.2" height="33.4"/><rect x="254.38" y="246.3" width="1.2" height="31.2"/><rect x="255.86" y="156.0" width="1.2" height="68.9"/><rect x="258.80" y="238.3" width="1.2" height="59.2"/><rect x="260.27" y="211.0" width="1.2" height="27.3"/><rect x="261.74" y="238.3" width="1.2" height="47.7"/><rect x="264.68" y="185.0" width="1.2" height="44.0"/><rect x="266.16" y="238.3" width="1.2" height="39.2"/><rect x="267.63" y="192.5" width="1.2" height="16.9"/><rect x="272.04" y="147.5" width="1.2" height="37.7"/><rect x="276.46" y="263.8" width="1.2" height="8.7"/><rect x="283.81" y="192.5" width="1.2" height="6.9"/><rect x="286.76" y="161.0" width="1.2" height="38.4"/><rect x="288.23" y="238.3" width="1.2" height="5.7"/><rect x="289.70" y="101.0" width="1.2" height="98.5"/><rect x="292.64" y="243.6" width="1.2" height="31.4"/><rect x="295.59" y="202.5" width="1.2" height="13.8"/><rect x="298.53" y="192.5" width="1.2" height="23.8"/><rect x="302.94" y="245.7" width="1.2" height="46.8"/><rect x="305.89" y="181.0" width="1.2" height="46.5"/><rect x="308.83" y="238.3" width="1.2" height="40.7"/><rect x="311.77" y="202.5" width="1.2" height="20.3"/><rect x="313.24" y="238.3" width="1.2" height="17.7"/><rect x="314.72" y="229.5" width="1.2" height="8.8"/><rect x="316.19" y="238.3" width="1.2" height="34.2"/><rect x="317.66" y="202.5" width="1.2" height="10.1"/><rect x="322.07" y="167.5" width="1.2" height="32.7"/><rect x="325.02" y="238.3" width="1.2" height="44.2"/><rect x="332.37" y="41.0" width="1.2" height="114.1"/><rect x="335.32" y="134.4" width="1.2" height="20.7"/><rect x="339.73" y="182.5" width="1.2" height="5.7"/><rect x="341.20" y="238.3" width="1.2" height="16.7"/><rect x="342.68" y="228.5" width="1.2" height="6.8"/><rect x="347.09" y="111.0" width="1.2" height="104.6"/><rect x="348.56" y="238.3" width="1.2" height="69.2"/><rect x="350.03" y="189.0" width="1.2" height="49.3"/><rect x="351.50" y="238.3" width="1.2" height="57.7"/><rect x="354.45" y="170.0" width="1.2" height="56.8"/><rect x="357.39" y="240.7" width="1.2" height="31.8"/><rect x="360.33" y="192.5" width="1.2" height="45.8"/><rect x="361.80" y="238.3" width="1.2" height="19.2"/><rect x="363.28" y="215.0" width="1.2" height="23.3"/><rect x="364.75" y="238.3" width="1.2" height="17.7"/><rect x="366.22" y="126.0" width="1.2" height="83.5"/><rect x="370.63" y="248.8" width="1.2" height="73.7"/><rect x="373.58" y="190.0" width="1.2" height="48.3"/><rect x="375.05" y="238.3" width="1.2" height="27.7"/><rect x="379.46" y="192.5" width="1.2" height="33.0"/><rect x="380.93" y="245.7" width="1.2" height="44.3"/><rect x="383.88" y="245.7" width="1.2" height="19.3"/><rect x="386.82" y="154.0" width="1.2" height="75.0"/><rect x="389.76" y="238.3" width="1.2" height="56.7"/><rect x="392.71" y="139.0" width="1.2" height="67.9"/><rect x="395.65" y="238.3" width="1.2" height="72.7"/><rect x="398.59" y="182.5" width="1.2" height="53.0"/><rect x="400.06" y="238.3" width="1.2" height="36.7"/><rect x="401.54" y="209.0" width="1.2" height="29.3"/><rect x="407.42" y="315.9" width="1.2" height="82.1"/><rect x="411.84" y="172.5" width="1.2" height="65.8"/><rect x="413.31" y="253.1" width="1.2" height="61.9"/><rect x="416.25" y="253.1" width="1.2" height="1.4"/><rect x="417.72" y="184.0" width="1.2" height="54.3"/><rect x="419.19" y="238.3" width="1.2" height="79.2"/><rect x="422.14" y="200.0" width="1.2" height="36.8"/><rect x="423.61" y="238.3" width="1.2" height="52.7"/><rect x="425.08" y="232.5" width="1.2" height="5.8"/><rect x="428.02" y="266.4" width="1.2" height="31.1"/><rect x="430.97" y="266.4" width="1.2" height="4.6"/><rect x="433.91" y="181.0" width="1.2" height="47.7"/><rect x="436.85" y="238.3" width="1.2" height="74.2"/><rect x="438.32" y="155.0" width="1.2" height="83.3"/><rect x="439.80" y="238.3" width="1.2" height="109.2"/><rect x="441.27" y="229.0" width="1.2" height="9.3"/><rect x="444.21" y="263.1" width="1.2" height="21.9"/><rect x="448.62" y="269.9" width="1.2" height="12.6"/><rect x="450.10" y="217.5" width="1.2" height="20.8"/><rect x="453.04" y="254.4" width="1.2" height="34.6"/><rect x="454.51" y="215.0" width="1.2" height="22.6"/><rect x="457.45" y="219.0" width="1.2" height="18.6"/><rect x="460.40" y="257.5" width="1.2" height="37.5"/><rect x="463.34" y="221.0" width="1.2" height="17.3"/><rect x="464.81" y="239.6" width="1.2" height="8.4"/><rect x="469.23" y="195.0" width="1.2" height="37.0"/><rect x="470.70" y="248.8" width="1.2" height="27.2"/><rect x="473.64" y="248.8" width="1.2" height="13.7"/><rect x="476.58" y="201.0" width="1.2" height="13.0"/><rect x="481.00" y="190.0" width="1.2" height="25.2"/><rect x="482.47" y="238.3" width="1.2" height="10.7"/><rect x="483.94" y="233.7" width="1.2" height="4.6"/><rect x="485.41" y="243.4" width="1.2" height="19.1"/><rect x="488.36" y="243.4" width="1.2" height="2.6"/><rect x="489.83" y="220.0" width="1.2" height="18.3"/><rect x="491.30" y="238.3" width="1.2" height="45.7"/><rect x="492.77" y="147.5" width="1.2" height="90.8"/><rect x="495.71" y="253.1" width="1.2" height="47.9"/><rect x="498.66" y="190.0" width="1.2" height="16.5"/><rect x="504.54" y="255.5" width="1.2" height="25.5"/><rect x="507.48" y="255.5" width="1.2" height="14.5"/><rect x="508.96" y="192.5" width="1.2" height="45.8"/><rect x="511.90" y="252.9" width="1.2" height="22.1"/><rect x="514.84" y="216.0" width="1.2" height="22.3"/><rect x="516.31" y="244.2" width="1.2" height="28.3"/><rect x="519.26" y="222.5" width="1.2" height="15.8"/><rect x="520.73" y="239.6" width="1.2" height="2.5"/><rect x="523.67" y="220.0" width="1.2" height="18.3"/><rect x="526.61" y="267.4" width="1.2" height="30.1"/><rect x="532.50" y="157.5" width="1.2" height="27.5"/><rect x="538.39" y="238.3" width="1.2" height="32.7"/><rect x="542.80" y="207.5" width="1.2" height="23.9"/><rect x="544.27" y="238.3" width="1.2" height="24.2"/><rect x="547.22" y="149.0" width="1.2" height="43.6"/><rect x="550.16" y="189.0" width="1.2" height="3.6"/><rect x="553.10" y="207.4" width="1.2" height="3.6"/><rect x="557.52" y="215.0" width="1.2" height="6.0"/><rect x="558.99" y="238.3" width="1.2" height="16.7"/><rect x="561.93" y="150.0" width="1.2" height="15.2"/><rect x="564.87" y="116.0" width="1.2" height="49.2"/><rect x="566.35" y="238.3" width="1.2" height="14.2"/><rect x="567.82" y="189.9" width="1.2" height="5.3"/><rect x="570.76" y="115.0" width="1.2" height="80.3"/><rect x="572.23" y="241.5" width="1.2" height="13.5"/><rect x="576.65" y="267.6" width="1.2" height="49.9"/><rect x="584.00" y="131.0" width="1.2" height="62.9"/><rect x="588.42" y="238.3" width="1.2" height="10.7"/><rect x="589.89" y="197.5" width="1.2" height="40.8"/><rect x="591.36" y="238.3" width="1.2" height="42.7"/><rect x="592.83" y="135.0" width="1.2" height="77.6"/><rect x="595.78" y="194.0" width="1.2" height="18.6"/><rect x="597.25" y="238.3" width="1.2" height="64.2"/><rect x="598.72" y="159.0" width="1.2" height="56.0"/><rect x="601.66" y="166.0" width="1.2" height="49.0"/><rect x="603.13" y="249.0" width="1.2" height="51.0"/><rect x="606.08" y="222.5" width="1.2" height="2.6"/><rect x="609.02" y="197.5" width="1.2" height="27.6"/><rect x="610.49" y="238.3" width="1.2" height="39.2"/><rect x="616.38" y="197.5" width="1.2" height="16.1"/><rect x="619.32" y="249.8" width="1.2" height="52.7"/><rect x="620.79" y="172.0" width="1.2" height="44.1"/><rect x="623.73" y="238.3" width="1.2" height="30.7"/><rect x="625.21" y="161.0" width="1.2" height="38.8"/><rect x="631.09" y="139.0" width="1.2" height="41.0"/><rect x="634.04" y="238.3" width="1.2" height="10.4"/><rect x="636.98" y="177.5" width="1.2" height="28.7"/><rect x="638.45" y="238.3" width="1.2" height="48.2"/><rect x="641.39" y="194.0" width="1.2" height="27.0"/><rect x="645.81" y="289.2" width="1.2" height="50.8"/><rect x="650.22" y="177.5" width="1.2" height="24.0"/><rect x="653.16" y="172.5" width="1.2" height="29.0"/><rect x="654.64" y="262.1" width="1.2" height="58.9"/><rect x="659.05" y="182.5" width="1.2" height="55.8"/><rect x="660.52" y="238.3" width="1.2" height="86.7"/><rect x="661.99" y="180.0" width="1.2" height="58.3"/><rect x="663.47" y="238.3" width="1.2" height="26.7"/><rect x="664.94" y="204.0" width="1.2" height="26.2"/><rect x="667.88" y="252.6" width="1.2" height="32.4"/><rect x="670.82" y="252.6" width="1.2" height="38.4"/><rect x="673.77" y="189.0" width="1.2" height="49.3"/><rect x="675.24" y="238.3" width="1.2" height="49.2"/><rect x="676.71" y="162.5" width="1.2" height="75.8"/><rect x="678.18" y="238.3" width="1.2" height="35.4"/><rect x="679.65" y="229.0" width="1.2" height="9.3"/><rect x="685.54" y="248.8" width="1.2" height="32.2"/><rect x="687.01" y="88.8" width="1.2" height="100.1"/><rect x="689.95" y="181.0" width="1.2" height="7.8"/><rect x="692.90" y="238.3" width="1.2" height="9.2"/><rect x="695.84" y="156.0" width="1.2" height="50.8"/><rect x="698.78" y="195.0" width="1.2" height="11.8"/><rect x="703.20" y="259.8" width="1.2" height="89.2"/><rect x="707.61" y="138.0" width="1.2" height="21.0"/><rect x="709.08" y="238.3" width="1.2" height="7.7"/><rect x="713.50" y="87.5" width="1.2" height="99.3"/><rect x="719.38" y="313.0" width="1.2" height="5.0"/><rect x="728.21" y="340.0" width="1.2" height="14.0"/><rect x="732.63" y="368.0" width="1.2" height="29.5"/><rect x="735.57" y="372.0" width="1.2" height="13.0"/><rect x="741.46" y="392.5" width="1.2" height="2.5"/></g>
<line x1="36.5" x2="766" y1="238.3" y2="238.3" stroke="#000" stroke-width="1.2"/>
<polyline points="37.00,230.0 38.75,202.5 41.25,210.5 43.75,200.0 45.75,209.5 48.00,201.0 50.50,230.0 52.50,229.0 53.75,250.0 55.00,270.0 57.00,285.0 59.50,252.5 61.25,249.0 62.00,257.0 63.25,231.0 66.25,224.0 67.50,225.0 69.50,240.0 70.00,247.5 71.25,255.0 73.00,235.0 73.75,234.0 76.25,235.0 78.75,212.5 80.00,215.0 82.50,199.0 83.75,205.0 85.00,232.5 87.00,235.0 88.00,246.0 88.75,265.0 89.50,269.0 92.00,232.5 92.50,207.5 94.50,207.5 95.50,212.5 97.50,235.0 98.75,250.0 101.00,232.0 102.50,216.0 103.75,225.0 105.00,220.0 107.00,235.0 107.50,247.5 109.50,250.0 110.50,232.0 111.25,212.5 112.50,200.0 115.00,205.0 117.00,219.0 119.50,216.0 121.25,219.0 123.00,237.5 123.75,257.5 125.00,260.0 126.25,240.0 127.50,215.0 129.50,191.0 131.25,194.0 133.00,217.5 135.00,212.5 136.25,215.0 138.00,191.0 139.40,216.0 140.60,233.8 142.50,236.2 143.75,257.5 145.00,226.2 146.25,252.5 148.10,264.4 150.00,252.5 151.90,226.2 153.00,227.0 154.40,240.0 156.25,251.2 158.10,241.2 160.00,231.2 161.25,228.8 163.10,233.8 165.00,236.0 166.25,244.0 167.50,258.0 169.30,280.0 170.60,275.0 172.50,262.5 174.40,250.0 175.30,245.5 176.90,262.0 178.75,277.0 180.60,286.5 182.50,273.0 184.40,248.0 185.60,230.0 187.25,221.9 188.75,226.2 190.00,240.0 191.25,268.8 192.50,277.0 193.75,270.0 195.00,240.0 196.25,227.5 198.10,225.6 199.40,232.5 200.25,252.5 201.25,268.8 202.50,252.5 204.40,240.0 206.25,233.8 207.50,233.8 208.75,246.2 210.00,260.0 211.25,240.0 212.10,225.0 213.10,243.8 214.00,251.2 215.00,243.8 216.25,251.2 217.50,267.5 218.75,278.0 219.50,279.0 221.50,291.0 223.75,277.5 226.25,257.5 228.10,252.5 229.40,260.0 230.00,252.5 231.25,270.0 233.00,250.0 234.40,240.0 235.60,255.0 237.00,262.0 238.75,251.2 240.60,251.2 242.50,262.5 244.40,268.8 245.60,262.0 246.90,246.2 248.50,231.9 250.00,240.0 251.90,245.0 253.20,246.5 254.40,255.6 255.60,233.8 256.90,222.5 258.75,221.9 260.00,227.5 261.25,255.0 262.75,240.0 264.40,222.5 266.25,218.0 268.75,219.0 271.25,189.0 273.00,202.5 275.00,228.0 276.25,252.5 277.25,267.5 278.75,258.8 280.00,240.0 281.90,219.0 283.75,215.0 285.50,202.5 287.00,205.0 289.50,175.0 291.25,195.0 292.50,210.0 293.75,232.0 295.00,245.0 296.25,233.0 297.00,212.5 298.75,209.0 300.00,221.0 301.90,237.5 303.75,252.5 304.40,257.5 305.60,240.0 307.50,230.0 309.40,221.2 311.25,225.0 312.50,233.8 314.00,222.5 315.60,231.2 316.90,240.6 318.10,227.5 320.00,212.5 322.50,182.5 324.50,205.0 326.25,216.0 327.50,225.0 328.75,205.0 330.50,155.0 332.50,152.5 334.40,142.0 335.90,141.5 336.60,155.0 337.50,172.5 339.40,190.0 340.60,212.0 342.50,225.0 344.40,235.6 345.60,225.0 346.90,203.8 348.75,206.0 350.00,220.0 351.25,240.0 352.00,258.0 352.60,245.0 353.25,226.0 355.00,225.0 357.50,230.0 360.00,242.5 362.00,227.5 363.75,225.0 365.50,207.5 367.00,201.0 368.75,215.0 370.50,227.5 371.25,249.0 373.75,246.0 375.00,238.0 376.25,235.0 378.00,226.0 380.00,229.0 382.00,235.0 383.00,245.0 384.50,263.0 385.50,235.0 387.00,224.0 388.75,230.0 390.50,215.0 393.00,205.0 395.00,217.5 397.00,235.0 398.75,237.5 401.25,222.5 403.00,237.5 403.75,250.0 405.00,257.5 406.25,287.5 408.00,307.5 410.00,314.0 411.25,275.0 412.50,257.5 413.75,262.5 415.50,252.5 417.50,250.0 419.50,240.0 420.50,236.0 423.00,242.5 425.00,247.5 426.25,260.0 428.50,251.0 430.00,263.8 431.90,251.0 433.50,233.8 434.40,231.9 435.25,238.0 436.90,218.8 438.10,241.0 439.40,260.0 440.00,268.0 441.25,250.0 442.50,260.0 443.75,256.0 445.00,258.0 446.90,268.0 449.40,262.5 450.60,257.0 451.90,256.0 453.50,247.5 455.00,240.0 456.25,242.5 457.25,232.5 458.10,225.6 459.00,232.5 460.00,242.5 461.25,252.5 462.50,255.6 464.00,255.0 465.25,248.8 466.90,238.8 468.10,232.5 469.40,240.0 470.25,243.8 471.50,240.0 472.50,245.0 473.75,260.0 474.60,261.0 475.40,247.5 476.25,235.0 477.50,222.5 478.75,212.5 480.00,210.0 481.25,217.5 482.75,218.8 483.75,227.5 485.00,240.0 486.90,245.0 488.75,247.5 490.00,250.0 491.00,237.5 491.90,223.8 493.10,225.0 494.00,241.0 494.75,256.0 495.60,242.5 496.50,233.0 497.50,236.0 498.75,217.5 500.00,207.0 501.50,213.8 502.75,226.0 504.00,237.5 505.60,247.5 506.50,257.5 507.50,247.5 508.75,240.0 509.75,236.0 510.60,242.5 511.90,246.0 513.10,248.8 514.40,251.0 515.60,248.8 517.50,243.8 520.00,242.5 521.90,240.0 523.75,238.8 525.50,257.5 527.00,267.5 528.75,272.5 530.00,260.0 530.50,240.0 532.00,212.5 533.75,199.0 535.50,197.5 537.00,217.5 538.75,235.0 540.00,240.0 540.50,237.5 542.50,230.0 544.50,212.5 546.25,205.0 548.00,194.0 550.00,191.0 551.75,210.0 553.75,210.0 555.50,217.5 557.50,226.0 559.50,222.5 561.25,205.0 563.00,180.0 564.50,159.0 566.25,172.5 568.00,184.0 570.00,189.0 571.75,190.0 573.75,210.0 574.50,250.0 576.25,269.0 578.00,265.0 579.50,252.5 580.75,225.0 582.50,200.0 584.25,180.0 586.25,197.5 587.80,220.0 588.80,238.0 589.80,247.5 590.80,225.0 591.60,205.0 593.00,195.0 595.00,210.0 597.00,217.5 598.75,215.0 600.00,213.8 601.90,225.0 603.75,238.8 605.00,250.0 606.30,238.0 607.75,223.8 609.40,232.5 611.25,238.8 612.50,233.8 614.00,225.0 615.25,215.0 616.90,235.0 618.10,247.5 620.00,242.5 621.90,238.0 623.10,215.0 625.00,208.0 627.00,202.5 628.75,195.0 630.50,176.0 632.50,192.5 634.50,194.0 636.25,202.5 638.00,210.0 640.00,217.5 642.00,222.5 643.00,252.5 644.50,280.0 645.75,301.0 647.00,302.5 648.00,277.5 649.25,240.0 649.40,240.0 650.60,218.8 651.90,201.0 653.10,212.5 654.40,237.5 655.60,255.0 656.90,264.0 658.10,252.0 659.75,241.0 661.25,225.0 662.50,222.5 663.75,242.5 665.00,236.0 666.25,218.8 667.50,237.5 669.40,246.0 671.25,262.0 672.50,250.0 674.40,245.0 675.60,225.0 676.50,220.0 677.75,231.0 678.75,241.0 680.00,231.0 681.00,229.0 681.90,242.5 683.75,248.8 685.00,252.5 685.60,225.0 686.90,212.5 688.00,202.5 690.00,182.5 691.25,190.0 693.10,228.8 694.40,218.8 696.25,200.0 698.00,202.5 700.00,215.0 701.25,230.0 702.50,260.0 703.75,280.0 705.00,262.5 706.25,225.0 708.00,202.5 709.50,190.0 711.25,192.5 712.50,180.0 713.75,164.0 715.00,175.0 716.25,202.5 717.20,238.0 718.00,265.0 719.50,297.5 721.25,306.0 723.00,309.0 724.50,314.0 726.25,318.0 727.50,325.0 729.50,331.0 731.25,342.5 733.00,352.5 735.00,364.0 736.25,374.0 737.50,366.0 738.75,369.0 740.50,377.5 742.00,386.0 743.00,354.0" fill="none" stroke="#0b2a5c" stroke-width="2.55" stroke-linejoin="round" stroke-linecap="round"/>
<line x1="36.5" x2="36.5" y1="42" y2="434" stroke="#555" stroke-width="1"/>
<line x1="36" x2="767" y1="433.3" y2="433.3" stroke="#111" stroke-width="1.1"/>
<line x1="33" x2="36.5" y1="81.5" y2="81.5" stroke="#222" stroke-width="0.9"/><text x="29" y="85.7" text-anchor="end" font-size="11.7">4</text><line x1="33" x2="36.5" y1="160" y2="160" stroke="#222" stroke-width="0.9"/><text x="29" y="164.2" text-anchor="end" font-size="11.7">2</text><line x1="33" x2="36.5" y1="238.3" y2="238.3" stroke="#222" stroke-width="0.9"/><text x="29" y="242.5" text-anchor="end" font-size="11.7">0</text><line x1="33" x2="36.5" y1="316.5" y2="316.5" stroke="#222" stroke-width="0.9"/><text x="29" y="320.7" text-anchor="end" font-size="11.7">−2</text><line x1="33" x2="36.5" y1="394.6" y2="394.6" stroke="#222" stroke-width="0.9"/><text x="29" y="398.8" text-anchor="end" font-size="11.7">−4</text>
<line x1="36.50" x2="36.50" y1="433.3" y2="437" stroke="#444" stroke-width="1"/><text x="37.10" y="449.7" text-anchor="middle" font-size="11.7">'17</text><line x1="113.28" x2="113.28" y1="433.3" y2="437" stroke="#444" stroke-width="1"/><text x="113.88" y="449.7" text-anchor="middle" font-size="11.7">'18</text><line x1="190.06" x2="190.06" y1="433.3" y2="437" stroke="#444" stroke-width="1"/><text x="190.66" y="449.7" text-anchor="middle" font-size="11.7">'19</text><line x1="266.84" x2="266.84" y1="433.3" y2="437" stroke="#444" stroke-width="1"/><text x="267.44" y="449.7" text-anchor="middle" font-size="11.7">'20</text><line x1="343.62" x2="343.62" y1="433.3" y2="437" stroke="#444" stroke-width="1"/><text x="344.22" y="449.7" text-anchor="middle" font-size="11.7">'21</text><line x1="420.40" x2="420.40" y1="433.3" y2="437" stroke="#444" stroke-width="1"/><text x="421.00" y="449.7" text-anchor="middle" font-size="11.7">'22</text><line x1="497.18" x2="497.18" y1="433.3" y2="437" stroke="#444" stroke-width="1"/><text x="497.78" y="449.7" text-anchor="middle" font-size="11.7">'23</text><line x1="573.96" x2="573.96" y1="433.3" y2="437" stroke="#444" stroke-width="1"/><text x="574.56" y="449.7" text-anchor="middle" font-size="11.7">'24</text><line x1="650.74" x2="650.74" y1="433.3" y2="437" stroke="#444" stroke-width="1"/><text x="651.34" y="449.7" text-anchor="middle" font-size="11.7">'25</text><line x1="727.52" x2="727.52" y1="433.3" y2="437" stroke="#444" stroke-width="1"/><text x="728.12" y="449.7" text-anchor="middle" font-size="11.7">'26</text>
<rect x="0" y="464" width="2" height="1" fill="#222"/>
<ellipse cx="726.8" cy="320" rx="39.4" ry="98" fill="none" stroke="#cb2a3f" stroke-width="1.4"/>
</svg>
</body></html>
